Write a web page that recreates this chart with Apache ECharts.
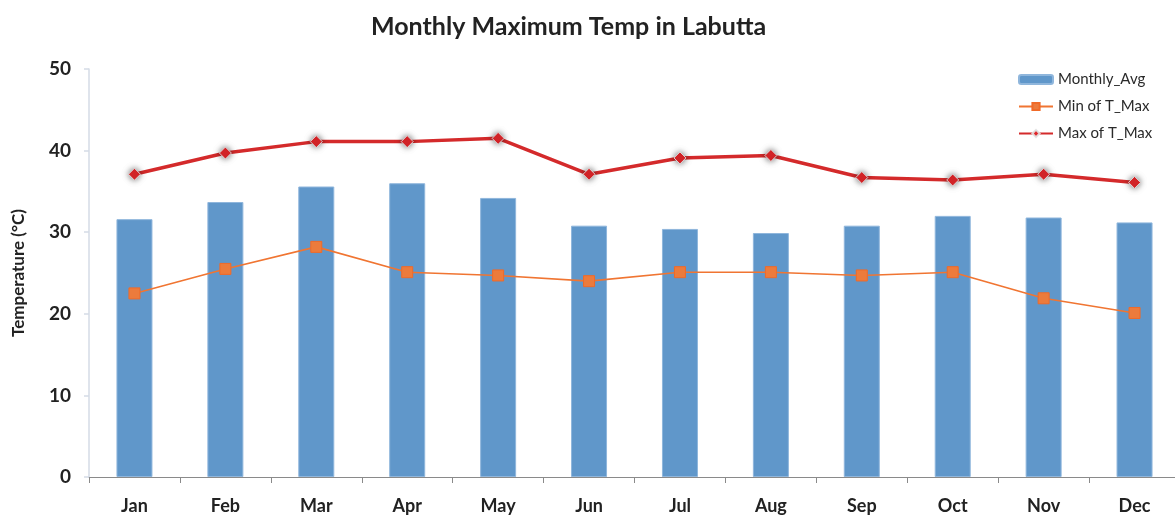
<!DOCTYPE html>
<html>
<head>
<meta charset="utf-8">
<script src="https://cdn.jsdelivr.net/npm/echarts@6/dist/echarts.min.js"></script>
<style>
  html, body { margin: 0; padding: 0; background: #fff; }
  #chart { width: 1175px; height: 517px; }
</style>
</head>
<body>
<div id="chart"></div>
<script>
// Monthly temperatures (°C) for Labutta
const months = ['Jan', 'Feb', 'Mar', 'Apr', 'May', 'Jun', 'Jul', 'Aug', 'Sep', 'Oct', 'Nov', 'Dec'];
const monthlyAvg = [31.6, 33.7, 35.6, 36.0, 34.2, 30.8, 30.4, 29.9, 30.8, 32.0, 31.8, 31.2];
const minOfTMax = [22.5, 25.5, 28.2, 25.1, 24.7, 24.0, 25.1, 25.1, 24.7, 25.1, 21.9, 20.1];
const maxOfTMax = [37.1, 39.7, 41.1, 41.1, 41.5, 37.1, 39.1, 39.4, 36.7, 36.4, 37.1, 36.1];

const FONT = 'Lato, "Open Sans", sans-serif';

const chart = echarts.init(document.getElementById('chart'), null, { renderer: 'canvas' });

chart.setOption({
  animation: false,
  backgroundColor: '#ffffff',
  title: {
    text: 'Monthly Maximum Temp in Labutta',
    left: 366,
    top: 9,
    textStyle: { fontFamily: FONT, fontSize: 25, fontWeight: 'bold', color: '#222222' }
  },
  legend: {
    orient: 'vertical',
    left: 1013,
    top: 67,
    itemWidth: 34,
    itemHeight: 9,
    itemGap: 12,
    textStyle: { fontFamily: FONT, fontSize: 15, color: '#2a2a2a' },
    data: ['Monthly_Avg', 'Min of T_Max', 'Max of T_Max']
  },
  grid: { left: 89, top: 69, width: 1091, bottom: 40, containLabel: false, outerBoundsMode: 'none' },
  xAxis: {
    type: 'category',
    data: months,
    boundaryGap: true,
    axisLine: { lineStyle: { color: '#8a8a8a', width: 1.2 } },
    axisTick: { show: true, length: 6, lineStyle: { color: '#8a8a8a' } },
    axisLabel: { margin: 20, fontFamily: FONT, fontSize: 18, fontWeight: 'bold', color: '#222222' },
    splitLine: { show: false }
  },
  yAxis: {
    type: 'value',
    min: 0,
    max: 50,
    interval: 10,
    name: 'Temperature (°C)',
    nameLocation: 'middle',
    nameGap: 62,
    nameTextStyle: { fontFamily: FONT, fontSize: 17, fontWeight: 'bold', color: '#222222' },
    axisLine: { show: true, lineStyle: { color: '#d5dbe6', width: 1.5 } },
    axisTick: { show: true, length: 5, lineStyle: { color: '#d5dbe6', width: 1.5 } },
    axisLabel: { margin: 18, fontFamily: FONT, fontSize: 19, fontWeight: 'bold', color: '#222222' },
    splitLine: { show: false }
  },
  series: [
    {
      name: 'Monthly_Avg',
      type: 'bar',
      data: monthlyAvg,
      barWidth: 36,
      itemStyle: { color: '#6097ca', borderColor: '#8fb6dc', borderWidth: 1 },
      z: 1
    },
    {
      name: 'Min of T_Max',
      type: 'line',
      data: minOfTMax,
      symbol: 'rect',
      symbolSize: 11,
      lineStyle: { color: '#f07532', width: 1.6 },
      itemStyle: { color: '#ec7b3c', borderColor: '#f06a28', borderWidth: 1 },
      z: 3
    },
    {
      name: 'Max of T_Max',
      type: 'line',
      data: maxOfTMax,
      symbol: 'diamond',
      symbolSize: 12,
      lineStyle: { color: '#d42a2b', width: 3.5 },
      itemStyle: {
        color: '#e0262a',
        borderColor: 'rgba(225,225,225,0.9)',
        borderWidth: 1,
        shadowBlur: 6,
        shadowColor: 'rgba(0,0,0,0.6)'
      },
      z: 4
    }
  ]
});
</script>
</body>
</html>
